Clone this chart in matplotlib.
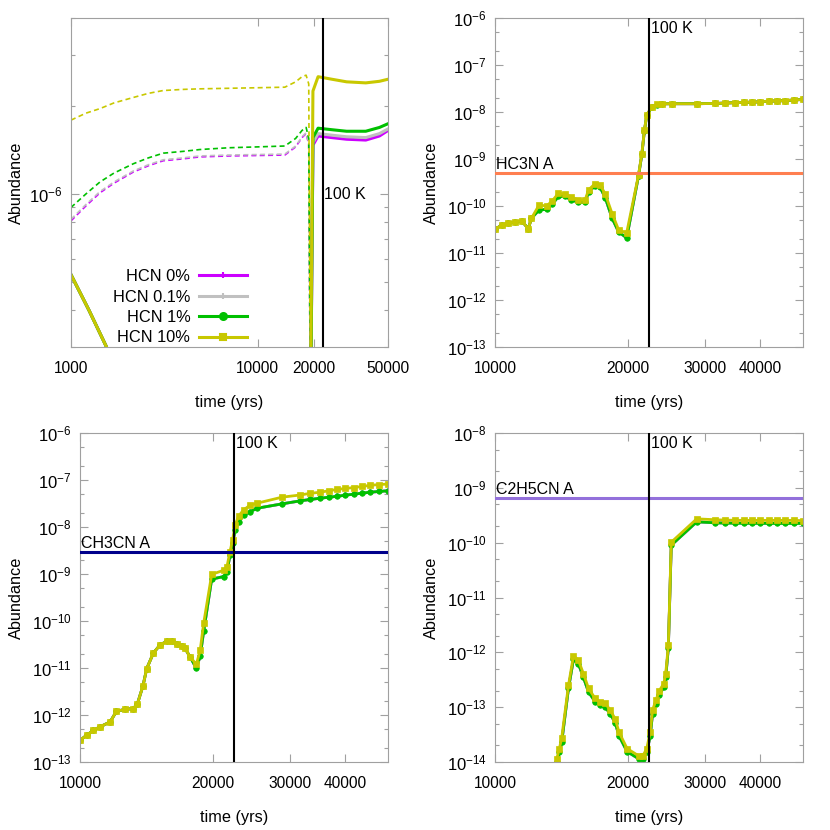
import matplotlib
matplotlib.use("Agg")
import matplotlib.pyplot as plt
from matplotlib import ticker
from matplotlib.lines import Line2D

plt.rcParams['font.family'] = ['Liberation Sans', 'DejaVu Sans']

# series
series_labels = ["HCN 0%", "HCN 0.1%", "HCN 1%", "HCN 10%"]
series_colors = ["#cc00ff", "#c0c0c0", "#00c000", "#c8c800"]
series_markers = ["+", "+", "o", "s"]

t_100k = 22400

# top-left: HCN, solid (x 1e-6)
tl_solid_t = [1000, 1250, 1550, 2500, 18900, 19800, 21100, 25000, 30000, 38000, 45000, 50000]
tl_solid_0 = [0.53, 0.40, 0.30, 0.05, 0.05, 1.47, 1.58, 1.56, 1.54, 1.53, 1.58, 1.65]
tl_solid_01 = [0.53, 0.40, 0.30, 0.05, 0.05, 1.50, 1.61, 1.59, 1.57, 1.56, 1.61, 1.67]
tl_solid_1 = [0.53, 0.40, 0.30, 0.05, 0.05, 1.56, 1.68, 1.66, 1.64, 1.64, 1.69, 1.74]
tl_solid_10 = [0.53, 0.40, 0.30, 0.05, 0.05, 2.25, 2.52, 2.47, 2.42, 2.40, 2.43, 2.47]

# top-left: HCN, dashed (x 1e-6)
tl_dash_t = [1000, 1200, 1430, 1700, 2160, 2600, 3120, 4000, 4900, 7000, 10000, 14000,
             16000, 17300, 18200, 18800, 19300]
tl_dash_0 = [0.81, 0.91, 1.01, 1.09, 1.19, 1.25, 1.30, 1.32, 1.34, 1.35, 1.355, 1.36,
             1.45, 1.56, 1.61, 1.48, 0.1]
tl_dash_01 = [0.82, 0.92, 1.02, 1.10, 1.20, 1.26, 1.31, 1.33, 1.35, 1.36, 1.365, 1.37,
              1.46, 1.57, 1.62, 1.49, 0.1]
tl_dash_1 = [0.90, 1.00, 1.10, 1.18, 1.27, 1.33, 1.38, 1.40, 1.42, 1.44, 1.45, 1.46,
             1.55, 1.65, 1.69, 1.55, 0.1]
tl_dash_10 = [1.79, 1.89, 1.96, 2.05, 2.14, 2.21, 2.26, 2.28, 2.29, 2.30, 2.31, 2.32,
              2.42, 2.52, 2.55, 2.38, 0.1]

# HC3N
hc3n_t = [10000, 10355, 10700, 11100, 11500, 11900, 12100, 12590, 13100, 13500, 13930, 14420,
          14900, 15460, 16020, 16300, 16880, 17320, 17790, 18440, 19080, 19900, 21170, 21540,
          21830, 22100, 22700, 23300, 23940, 25200, 28700, 31600, 33300, 35100, 36700, 38300,
          40000, 41800, 43700, 45600, 47700, 50000]
hc3n_low = [3.2e-11, 3.9e-11, 4.3e-11, 4.6e-11, 4.8e-11, 3.3e-11, 5.5e-11, 8.2e-11, 8.5e-11,
            1.1e-10, 1.6e-10, 1.6e-10, 1.35e-10, 1.2e-10, 1.2e-10, 2.0e-10, 2.7e-10, 2.5e-10,
            1.5e-10, 5.5e-11, 2.8e-11, 2.1e-11, 4.4e-10, 1.25e-9, 4.0e-9, 8.5e-9, 1.28e-8,
            1.44e-8, 1.49e-8, 1.5e-8, 1.5e-8, 1.52e-8, 1.55e-8, 1.58e-8, 1.6e-8, 1.62e-8,
            1.65e-8, 1.7e-8, 1.72e-8, 1.75e-8, 1.8e-8, 1.85e-8]
hc3n_10 = [3.2e-11, 3.9e-11, 4.3e-11, 4.6e-11, 4.8e-11, 3.3e-11, 5.5e-11, 1.05e-10, 1.0e-10,
           1.3e-10, 1.86e-10, 1.8e-10, 1.55e-10, 1.35e-10, 1.35e-10, 2.2e-10, 3.0e-10, 2.8e-10,
           1.8e-10, 6.9e-11, 3.1e-11, 2.7e-11, 4.6e-10, 1.3e-9, 4.1e-9, 8.7e-9, 1.3e-8,
           1.45e-8, 1.5e-8, 1.5e-8, 1.5e-8, 1.52e-8, 1.55e-8, 1.58e-8, 1.6e-8, 1.62e-8,
           1.65e-8, 1.7e-8, 1.72e-8, 1.75e-8, 1.8e-8, 1.85e-8]
hc3n_obs = 5.0e-10

# CH3CN
ch3cn_t = [10000, 10355, 10720, 11100, 11700, 12100, 12660, 13220, 13500, 13900, 14170, 14680,
           15200, 15740, 16150, 16580, 17000, 17320, 17790, 18370, 18740, 19080, 19900, 21170,
           21540, 21900, 22200, 22500, 22900, 23500, 24300, 25200, 28700, 31600, 33300, 35100,
           36700, 38300, 40000, 41800, 43700, 45600, 47700, 50000]
ch3cn_low = [2.9e-13, 3.7e-13, 4.7e-13, 5.6e-13, 7.1e-13, 1.2e-12, 1.32e-12, 1.37e-12, 1.74e-12,
             4.2e-12, 9.7e-12, 2.1e-11, 3.1e-11, 3.7e-11, 3.75e-11, 3.3e-11, 3.0e-11, 2.6e-11,
             1.7e-11, 9.8e-12, 1.8e-11, 6.0e-11, 7.8e-10, 8.8e-10, 1.1e-9, 2.5e-9, 4.6e-9,
             8.6e-9, 1.3e-8, 1.8e-8, 2.1e-8, 2.5e-8, 3.1e-8, 3.6e-8, 3.85e-8, 4.1e-8, 4.3e-8,
             4.5e-8, 4.75e-8, 5.0e-8, 5.25e-8, 5.5e-8, 5.7e-8, 5.9e-8]
ch3cn_10 = [2.9e-13, 3.7e-13, 4.7e-13, 5.6e-13, 7.1e-13, 1.2e-12, 1.32e-12, 1.37e-12, 1.74e-12,
            4.2e-12, 9.7e-12, 2.1e-11, 3.1e-11, 3.7e-11, 3.75e-11, 3.3e-11, 3.0e-11, 2.6e-11,
            1.7e-11, 1.2e-11, 2.4e-11, 8.9e-11, 9.8e-10, 1.2e-9, 1.4e-9, 3.0e-9, 5.4e-9,
            1.1e-8, 1.7e-8, 2.3e-8, 2.9e-8, 3.2e-8, 4.3e-8, 4.8e-8, 5.2e-8, 5.5e-8, 5.9e-8,
            6.3e-8, 6.6e-8, 6.9e-8, 7.3e-8, 7.7e-8, 8.0e-8, 8.2e-8]
ch3cn_obs = 2.95e-9

# C2H5CN
c2h5cn_t = [13600, 13810, 14000, 14170, 14680, 15070, 15460, 15870, 16300, 16880, 17320, 17790,
            18250, 18740, 19120, 19940, 21170, 21660, 22100, 22500, 22780, 23200, 23600, 24160,
            24400, 24740, 25120, 28700, 31600, 33300, 35100, 36700, 38300, 40000, 41800, 43700,
            45600, 47700, 50000]
c2h5cn_low = [4e-15, 1.0e-14, 1.5e-14, 2.3e-14, 2.2e-13, 7.5e-13, 6.2e-13, 3.5e-13, 1.9e-13,
              1.25e-13, 1.08e-13, 1.0e-13, 7.6e-14, 5.2e-14, 3.0e-14, 1.55e-14, 1.15e-14, 1.15e-14,
              1.5e-14, 3.0e-14, 7.6e-14, 1.15e-13, 1.7e-13, 2.3e-13, 3.5e-13, 1.2e-12, 9.0e-11,
              2.4e-10, 2.3e-10, 2.28e-10, 2.27e-10, 2.26e-10, 2.26e-10, 2.25e-10, 2.25e-10,
              2.25e-10, 2.25e-10, 2.25e-10, 2.24e-10]
c2h5cn_10 = [5e-15, 1.15e-14, 1.76e-14, 2.75e-14, 2.5e-13, 8.7e-13, 7.2e-13, 4.1e-13, 2.2e-13,
             1.44e-13, 1.25e-13, 1.17e-13, 8.9e-14, 6.1e-14, 3.5e-14, 1.76e-14, 1.3e-14, 1.3e-14,
             1.76e-14, 3.5e-14, 8.9e-14, 1.35e-13, 2.0e-13, 2.7e-13, 4.1e-13, 1.35e-12, 1.02e-10,
             2.72e-10, 2.62e-10, 2.58e-10, 2.56e-10, 2.55e-10, 2.55e-10, 2.55e-10, 2.55e-10,
             2.55e-10, 2.55e-10, 2.55e-10, 2.52e-10]
c2h5cn_obs = 6.4e-10

border = "#a0a0a0"
W = 830.0


def px_axes(fig, x0, y0, x1, y1):
    return fig.add_axes([x0 / W, 1 - y1 / W, (x1 - x0) / W, (y1 - y0) / W])


def style(ax, ylim, xlim, xticks, subs):
    ax.set_xscale("log")
    ax.set_yscale("log")
    ax.set_xlim(*xlim)
    ax.set_ylim(*ylim)
    ax.xaxis.set_major_locator(ticker.FixedLocator(xticks))
    ax.xaxis.set_major_formatter(ticker.FixedFormatter([str(v) for v in xticks]))
    ax.xaxis.set_minor_locator(ticker.NullLocator())
    ax.yaxis.set_major_locator(ticker.LogLocator(base=10, numticks=20))
    ax.yaxis.set_minor_locator(ticker.LogLocator(base=10, subs=subs, numticks=20))
    ax.yaxis.set_minor_formatter(ticker.NullFormatter())
    for s in ax.spines.values():
        s.set_color(border)
        s.set_linewidth(0.8)
    ax.tick_params(which="both", direction="in", top=True, right=True, color=border,
                   width=0.8)
    ax.tick_params(which="major", length=5.5)
    ax.tick_params(which="minor", length=3)
    ax.tick_params(axis="x", pad=10, labelsize=11.2)
    ax.tick_params(axis="y", pad=6, labelsize=12)
    ax.axvline(t_100k, color="black", lw=1.5, zorder=5)


def model_panel(ax, t, low, high, obs, obs_color, obs_label):
    style(ax, ax.get_ylim(), (10000, 50000), [10000, 20000, 30000, 40000], (2, 5))
    for i in range(3):
        ax.plot(t, low, color=series_colors[i], lw=2, marker=series_markers[i],
                ms=4, mew=1.5 if i < 2 else 0.5)
    ax.plot(t, high, color=series_colors[3], lw=2, marker="s", ms=4, mew=0.5)
    ax.axhline(obs, color=obs_color, lw=2.2, zorder=4)
    ax.annotate(obs_label, xy=(0, obs), xycoords=ax.get_yaxis_transform(),
                xytext=(1, 1), textcoords="offset points", ha="left", va="bottom",
                fontsize=11.5)
    ax.annotate("100 K", xy=(t_100k, 1), xycoords=ax.get_xaxis_transform(),
                xytext=(1, -2), textcoords="offset points", ha="left", va="top",
                fontsize=11.5)


fig = plt.figure(figsize=(8.3, 8.3), dpi=100)

# top-left
ax1 = px_axes(fig, 71, 18, 388, 347)
style(ax1, (3e-7, 4e-6), (1000, 50000), [1000, 10000, 20000, 50000], (2, 3, 4, 5, 6, 7, 8, 9))
tl_solid = [tl_solid_0, tl_solid_01, tl_solid_1, tl_solid_10]
tl_dash = [tl_dash_0, tl_dash_01, tl_dash_1, tl_dash_10]
for i in range(4):
    ax1.plot(tl_dash_t, [v * 1e-6 for v in tl_dash[i]], color=series_colors[i], lw=1.2,
             ls=(0, (3, 2)))
for i in range(4):
    ax1.plot(tl_solid_t, [v * 1e-6 for v in tl_solid[i]], color=series_colors[i], lw=2.2)
ax1.annotate("100 K", xy=(t_100k, 1e-6), xytext=(1, 0), textcoords="offset points",
             ha="left", va="center", fontsize=11.5)
handles = [Line2D([], [], color=series_colors[i], lw=2.2, marker=series_markers[i], ms=5,
                  mew=1.5) for i in range(4)]
ax1.legend(handles, series_labels, loc="lower right", bbox_to_anchor=(0.565, -0.005),
           frameon=False, markerfirst=False, fontsize=11.8, handlelength=2.9,
           handletextpad=0.55, labelspacing=0.33, borderpad=0.2, borderaxespad=0)

# top-right
ax2 = px_axes(fig, 495, 18, 803, 347)
ax2.set_ylim(1e-13, 1e-6)
model_panel(ax2, hc3n_t, hc3n_low, hc3n_10, hc3n_obs, "#ff7f50", "HC3N A")

# bottom-left
ax3 = px_axes(fig, 80, 433, 388, 762)
ax3.set_ylim(1e-13, 1e-6)
model_panel(ax3, ch3cn_t, ch3cn_low, ch3cn_10, ch3cn_obs, "#00008b", "CH3CN A")

# bottom-right
ax4 = px_axes(fig, 495, 433, 803, 762)
ax4.set_ylim(1e-14, 1e-8)
model_panel(ax4, c2h5cn_t, c2h5cn_low, c2h5cn_10, c2h5cn_obs, "#9370db", "C2H5CN A")

for ax, xl, xr, yt, yb, xoff in [(ax1, 71, 388, 18, 347, 0), (ax2, 495, 803, 18, 347, 415),
                                 (ax3, 80, 388, 433, 762, 0), (ax4, 495, 803, 433, 762, 415)]:
    fig.text((xl + xr) / 2 / W, 1 - (yb + 55) / W, "time (yrs)", ha="center", va="center",
             fontsize=11.7)
    fig.text((xoff + 16.7) / W, 1 - (yt + yb) / 2 / W, "Abundance", rotation=90,
             ha="center", va="center", fontsize=11.7)

fig.savefig("out.png", dpi=100)
